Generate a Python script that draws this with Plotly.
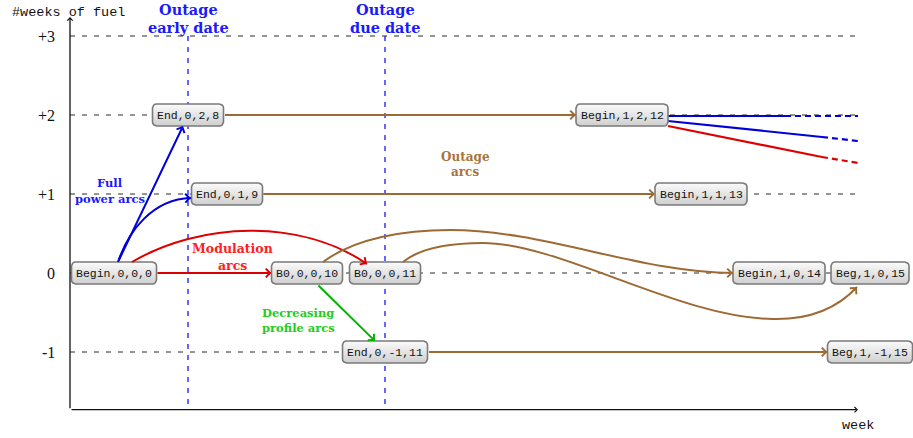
import numpy as np
import plotly.graph_objects as go

# ---------------- data ----------------
level_values = [3, 2, 1, 0, -1]
level_labels = ["+3", "+2", "+1", "0", "-1"]

node_labels = ["Begin,0,0,0", "End,0,2,8", "End,0,1,9", "B0,0,0,10", "B0,0,0,11",
               "End,0,-1,11", "Begin,1,2,12", "Begin,1,1,13", "Begin,1,0,14",
               "Beg,1,0,15", "Beg,1,-1,15"]
node_x = [114, 188, 227, 307, 385, 385, 622, 701, 779, 870, 870]
node_level = [0, 2, 1, 0, 0, -1, 2, 1, 0, 0, -1]

outage_dates_x = [188, 385]
outage_date_names = [["Outage", "early date"], ["Outage", "due date"]]

# straight outage arcs: (from node, to node)
straight_outage = [("End,0,2,8", "Begin,1,2,12"), ("End,0,1,9", "Begin,1,1,13"),
                   ("End,0,-1,11", "Beg,1,-1,15")]

# ---------------- geometry helpers ----------------
W, H = 913, 438
PXU = 79.0       # pixels per fuel week
Y0PX = 273.0     # pixel row of level 0
X_AXIS_L, X_AXIS_R = 70, 858
Y_AXIS_BOT = -1.73
Y_AXIS_TOP = 3.24

BLUE = "#0000dd"
BLUE_T = "#1a1aff"
RED = "#dd0000"
RED_T = "#ff2020"
GREEN = "#00b400"
GREEN_T = "#22cc22"
BROWN = "#9c6a32"
BROWN_T = "#a8743c"


def yv(py):
    return (Y0PX - py) / PXU


def pyv(v):
    return Y0PX - v * PXU


idx = {n: i for i, n in enumerate(node_labels)}
BOX_H = 22


def box_w(label):
    return 7 * len(label) + 8


def edge(name, side):
    i = idx[name]
    cx, cy = node_x[i], pyv(node_level[i])
    w = box_w(name)
    if side == "r":
        return cx + w / 2, cy
    if side == "l":
        return cx - w / 2, cy
    if side == "t":
        return cx, cy - BOX_H / 2
    return cx, cy + BOX_H / 2


fig = go.Figure()
shapes = []
annotations = []

# dashed level lines
for v, lab in zip(level_values, level_labels):
    shapes.append(dict(type="line", xref="x", yref="y", x0=X_AXIS_L, x1=X_AXIS_R, y0=v, y1=v,
                       line=dict(color="#2a2a2a", width=1, dash="5px,7px"), layer="below"))
    annotations.append(dict(x=57, y=v, xref="x", yref="y", text=lab,
                            showarrow=False, xanchor="right", yanchor="middle",
                            font=dict(family="Liberation Serif", size=16, color="#111")))

# outage date vertical lines and titles
for xd, names in zip(outage_dates_x, outage_date_names):
    shapes.append(dict(type="line", xref="x", yref="y", x0=xd, x1=xd, y0=3, y1=Y_AXIS_BOT,
                       line=dict(color="#0000ff", width=1.2, dash="5px,6px"), layer="below"))
    annotations.append(dict(x=xd, y=yv(9), text="<b>%s</b>" % names[0], showarrow=False,
                            xanchor="center", yanchor="middle",
                            font=dict(family="DejaVu Serif", size=14.5, color=BLUE_T)))
    annotations.append(dict(x=xd, y=yv(27), text="<b>%s</b>" % names[1], showarrow=False,
                            xanchor="center", yanchor="middle",
                            font=dict(family="DejaVu Serif", size=14.5, color=BLUE_T)))

# axes
annotations.append(dict(x=X_AXIS_L, y=Y_AXIS_TOP, ax=X_AXIS_L, ay=Y_AXIS_BOT, xref="x", yref="y",
                        axref="x", ayref="y", text="", showarrow=True, arrowhead=4, arrowsize=0.8,
                        arrowwidth=1.3, arrowcolor="#111"))
annotations.append(dict(x=X_AXIS_R, y=Y_AXIS_BOT, ax=X_AXIS_L, ay=Y_AXIS_BOT, xref="x", yref="y",
                        axref="x", ayref="y", text="", showarrow=True, arrowhead=4, arrowsize=0.8,
                        arrowwidth=1.3, arrowcolor="#111"))
annotations.append(dict(x=10, y=yv(12), text="#weeks of fuel", showarrow=False, xanchor="left",
                        yanchor="middle", font=dict(family="Liberation Mono", size=13.5, color="#111")))
annotations.append(dict(x=858, y=yv(425), text="week", showarrow=False, xanchor="center",
                        yanchor="middle", font=dict(family="Liberation Mono", size=13.5, color="#111")))


def arrow(p_from, p_to, color, width=2.0, size=0.85):
    annotations.append(dict(x=p_to[0], y=yv(p_to[1]), ax=p_from[0], ay=yv(p_from[1]),
                            xref="x", yref="y", axref="x", ayref="y", text="", showarrow=True,
                            arrowhead=4, arrowsize=size, arrowwidth=width, arrowcolor=color,
                            standoff=0))


def curve(points_px, color, width=2.0):
    p = points_px
    d = "M %s,%s" % (p[0][0], yv(p[0][1]))
    for k in range(1, len(p), 3):
        d += " C %s,%s %s,%s %s,%s" % (p[k][0], yv(p[k][1]), p[k + 1][0], yv(p[k + 1][1]),
                                        p[k + 2][0], yv(p[k + 2][1]))
    shapes.append(dict(type="path", xref="x", yref="y", path=d,
                       line=dict(color=color, width=width), layer="above"))
    tip = np.array(p[-1], float)
    c = np.array(p[-2], float)
    dvec = tip - c
    dvec = dvec / np.linalg.norm(dvec)
    tail = tip - dvec * 6
    arrow(tuple(tail), tuple(tip), color, width)


# straight outage (brown) arcs
for a, b in straight_outage:
    arrow(edge(a, "r"), edge(b, "l"), BROWN)

# red modulation straight
arrow(edge("Begin,0,0,0", "r"), edge("B0,0,0,10", "l"), RED)

# blue full power straight
bx, by = edge("Begin,0,0,0", "t")
tx, ty = edge("End,0,2,8", "b")
arrow((bx + 4, by), (tx - 5, ty), BLUE)

# green decreasing
gx, gy = edge("B0,0,0,10", "b")
ex, ey = edge("End,0,-1,11", "t")
arrow((gx + 10, gy), (ex - 10, ey), GREEN)

# curved arcs
curve([(118, 262), (128, 232), (152, 199), (191, 198)], BLUE)
curve([(132, 262), (200, 222), (300, 218), (367, 264)], RED)
curve([(323, 262), (355, 238), (405, 230), (450, 230),
       (545, 230), (640, 273), (733, 273)], BROWN)
curve([(403, 262), (420, 248), (450, 243), (483, 243),
       (560, 243), (680, 318), (773, 319),
       (820, 320), (845, 300), (857, 287)], BROWN)

# continuation lines after Begin,1,2,12
cont_solid = [((668, 116), (785, 116), BLUE), ((668, 121), (822, 137), BLUE),
              ((668, 126), (822, 157), RED)]
cont_dash = [((785, 116), (858, 116), BLUE), ((822, 137), (858, 141), BLUE),
             ((822, 157), (858, 163), RED)]
for (p0, p1, c) in cont_solid:
    fig.add_trace(go.Scatter(x=[p0[0], p1[0]], y=[yv(p0[1]), yv(p1[1])], mode="lines",
                             line=dict(color=c, width=2.2), hoverinfo="skip", showlegend=False))
for (p0, p1, c) in cont_dash:
    fig.add_trace(go.Scatter(x=[p0[0], p1[0]], y=[yv(p0[1]), yv(p1[1])], mode="lines",
                             line=dict(color=c, width=2.2, dash="6px,4px"), hoverinfo="skip",
                             showlegend=False))

# node boxes with vertical gradient
r = 4
for lab, x, lv in zip(node_labels, node_x, node_level):
    cy = pyv(lv)
    w = box_w(lab)
    x0, x1 = x - w / 2, x + w / 2
    y0, y1 = cy - BOX_H / 2, cy + BOX_H / 2
    pts = []
    corners = [(x1 - r, y0 + r, -90, 0), (x1 - r, y1 - r, 0, 90),
               (x0 + r, y1 - r, 90, 180), (x0 + r, y0 + r, 180, 270)]
    for ccx, ccy, a0, a1 in corners:
        for a in np.linspace(np.radians(a0), np.radians(a1), 5):
            pts.append((ccx + r * np.cos(a), ccy + r * np.sin(a)))
    pts.append(pts[0])
    xs = [p[0] for p in pts]
    ys = [yv(p[1]) for p in pts]
    fig.add_trace(go.Scatter(x=xs, y=ys, mode="lines", fill="toself",
                             fillgradient=dict(type="vertical",
                                               colorscale=[[0, "#cfcfcf"], [1, "#fbfbfb"]]),
                             line=dict(color="#7a7a7a", width=1.6), hoverinfo="skip",
                             showlegend=False))
    annotations.append(dict(x=x, y=lv, text=lab, showarrow=False, xanchor="center",
                            yanchor="middle",
                            font=dict(family="Liberation Mono", size=11.5, color="#111")))


def label2(x, ypx1, ypx2, l1, l2, color, size):
    for t, yy in ((l1, ypx1), (l2, ypx2)):
        annotations.append(dict(x=x, y=yv(yy), text="<b>%s</b>" % t, showarrow=False,
                                xanchor="center", yanchor="middle",
                                font=dict(family="DejaVu Serif", size=size, color=color)))


label2(110, 183, 199, "Full", "power arcs", BLUE_T, 11.5)
label2(232, 248, 265, "Modulation", "arcs", RED_T, 12.5)
label2(298, 313, 328, "Decreasing", "profile arcs", GREEN_T, 11.5)
label2(465, 157, 172, "Outage", "arcs", BROWN_T, 12)

fig.update_layout(
    width=W, height=H, margin=dict(l=0, r=0, t=0, b=0),
    paper_bgcolor="white", plot_bgcolor="white",
    xaxis=dict(range=[0, W], visible=False, fixedrange=True),
    yaxis=dict(range=[yv(H), yv(0)], visible=False, fixedrange=True),
    shapes=shapes, annotations=annotations, showlegend=False,
)

fig.write_html("out.html", config={"displayModeBar": False},
               post_script="document.body.style.margin='0';"
                           "document.body.style.overflow='hidden';")
